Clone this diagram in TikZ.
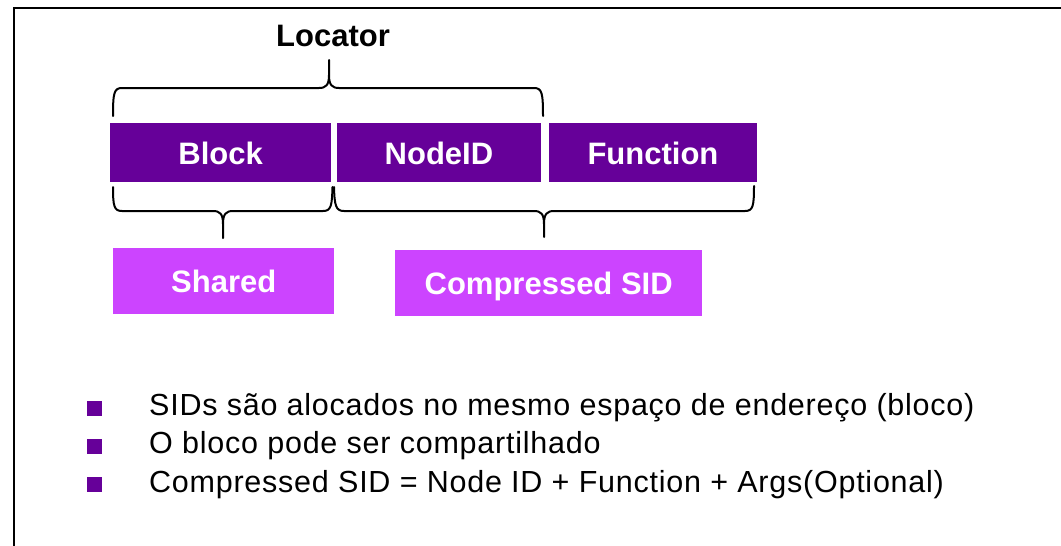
\documentclass[tikz,border=0pt]{standalone}
\usepackage{fontspec}
\setmainfont{Liberation Sans}
\newfontfamily\listfont[LetterSpace=2.5]{Liberation Sans}
\definecolor{segpurple}{HTML}{660099}
\definecolor{partpurple}{HTML}{CC44FF}

\begin{document}
\begin{tikzpicture}[x=1pt,y=-1pt,
  labelfont/.style={font=\fontsize{31}{37}\selectfont\bfseries},
  segbox/.style={labelfont, fill=segpurple, text=white, inner sep=0pt,
    anchor=north west, minimum height=59pt, text height=22.6pt, text depth=0pt},
  partbox/.style={labelfont, fill=partpurple, text=white, inner sep=0pt,
    anchor=north west, text height=22.6pt, text depth=0pt},
  bracestroke/.style={draw=black, line width=2pt, line cap=round, line join=round},
  bulletsq/.style={fill=segpurple, inner sep=0pt, minimum size=15pt, anchor=south west},
  itemtext/.style={font=\fontsize{30.5}{36}\selectfont\listfont, anchor=base west, inner sep=0pt},
]
\useasboundingbox (0,0) rectangle (1061,546);
\clip (0,0) rectangle (1061,546);

% slide frame (only its top and left edges fall inside the page)
\draw[line width=2.2pt] (14,600) -- (14,8) -- (1100,8);

% heading
\node[labelfont, anchor=base, inner sep=0pt] (locator) at (333,46.7) {Locator};

% address segments
\node[segbox, minimum width=221pt]   (block)  at (110,123)   {Block};
\node[segbox, minimum width=203.5pt] (nodeid) at (337,123)   {NodeID};
\node[segbox, minimum width=208.5pt] (func)   at (548.5,123) {Function};

% resulting parts
\node[partbox, minimum width=221pt, minimum height=65.5pt] (shared) at (113,248) {Shared};
\node[partbox, minimum width=307pt, minimum height=66pt]   (csid)   at (395,250) {Compressed SID};

% brace over Block + NodeID
\draw[bracestroke]
  (113,116) .. controls (113,93) and (114,88) .. (122,88) -- (319,88)
  .. controls (326,88) and (329,85) .. (329,75) -- (329,60) -- (329,75)
  .. controls (329,85) and (332,88) .. (339,88) -- (534,88)
  .. controls (542,88) and (543,93) .. (543,116);

% brace under Block
\draw[bracestroke]
  (113,187) .. controls (113,206) and (114,211) .. (122,211) -- (213,211)
  .. controls (220,211) and (223,214) .. (223,224) -- (223,238) -- (223,224)
  .. controls (223,214) and (226,211) .. (233,211) -- (323,211)
  .. controls (331,211) and (332,206) .. (332.5,187);

% brace under NodeID + Function
\draw[bracestroke]
  (334,187) .. controls (334.5,206) and (336,211) .. (344,211) -- (534,211)
  .. controls (541,211) and (544,214) .. (544,224) -- (544,237) -- (544,224)
  .. controls (544,214) and (547,211) .. (554,211) -- (745,211)
  .. controls (753,211) and (754,206) .. (754,186);

% bullet list
\node[bulletsq] (b1) at (87,416) {};
\node[bulletsq] (b2) at (87,454) {};
\node[bulletsq] (b3) at (87,492.5) {};
\node[itemtext] (t1) at (149,415) {SIDs são alocados no mesmo espaço de endereço (bloco)};
\node[itemtext] (t2) at (149,453.5) {O bloco pode ser compartilhado};
\node[itemtext] (t3) at (149,492) {Compressed SID = Node ID + Function + Args(Optional)};
\end{tikzpicture}
\end{document}
